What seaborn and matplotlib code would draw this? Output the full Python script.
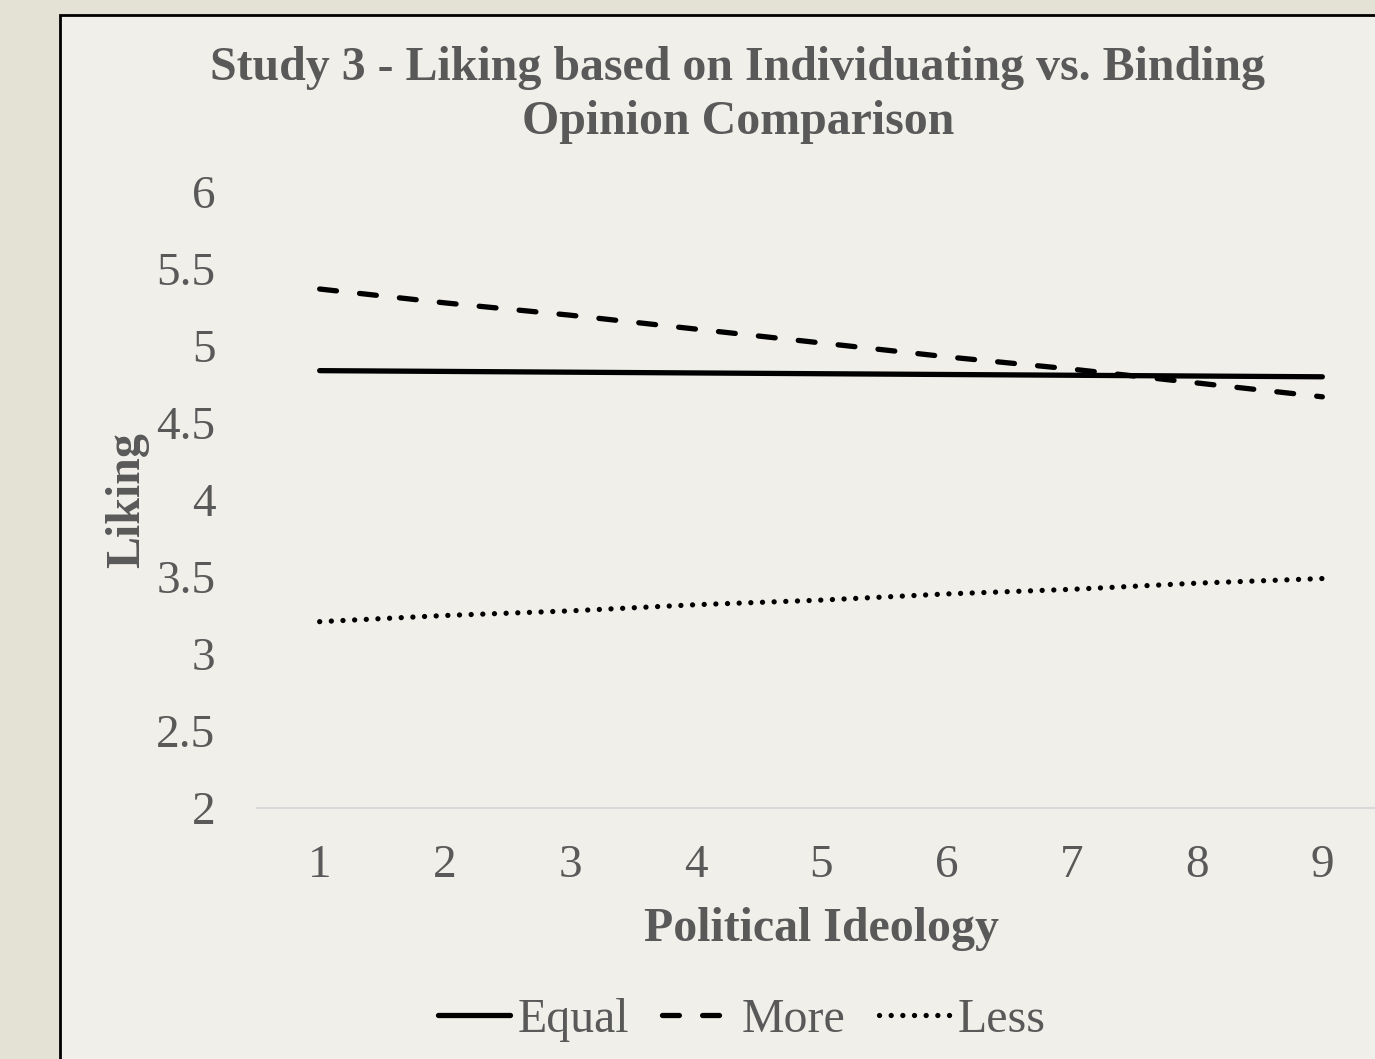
import matplotlib
matplotlib.use("Agg")
import matplotlib.pyplot as plt
from matplotlib.patches import Rectangle
import numpy as np
import pandas as pd
import seaborn as sns

# ---- data ----
ideology = [1, 2, 3, 4, 5, 6, 7, 8, 9]
equal = [4.84, 4.835, 4.83, 4.825, 4.82, 4.815, 4.81, 4.805, 4.80]
more = [5.37, 5.28, 5.20, 5.11, 5.02, 4.93, 4.85, 4.76, 4.67]
less = [3.21, 3.25, 3.28, 3.32, 3.35, 3.39, 3.42, 3.46, 3.49]
series_names = ["Equal", "More", "Less"]
y_ticks = [2, 2.5, 3, 3.5, 4, 4.5, 5, 5.5, 6]

df = pd.DataFrame({
    "Political Ideology": ideology * 3,
    "Liking": equal + more + less,
    "Condition": ["Equal"] * 9 + ["More"] * 9 + ["Less"] * 9,
})

sns.set_theme(style="white")
plt.rcParams["font.family"] = ["Liberation Serif", "DejaVu Serif"]
plt.rcParams["lines.dash_capstyle"] = "round"
plt.rcParams["lines.solid_capstyle"] = "round"

TXT = "#595959"
W, H = 1375, 1059
fig = plt.figure(figsize=(W / 100, H / 100), dpi=100)
fig.patch.set_facecolor("#E4E1D5")

# chart area with border (extends past right/bottom edges)
fig.patches.append(Rectangle((60 / W, 0 - 0.01), 1.05, 1 - 15 / H + 0.01,
                             transform=fig.transFigure, facecolor="#F0EFE9",
                             edgecolor="black", linewidth=2.0, zorder=-10))

ax = fig.add_axes([257 / W, 1 - 808 / H, (1385 - 257) / W, (808 - 192) / H])
ax.set_facecolor("none")
ax.set_zorder(5)

lw = 3.8
sns.lineplot(data=df, x="Political Ideology", y="Liking", style="Condition",
             style_order=series_names,
             dashes={"Equal": "", "More": (3.2, 4.4), "Less": (0.01, 2.2)},
             color="black", linewidth=lw, ax=ax, legend=False)

ax.set_xlim(0.5, 9.5)
ax.set_ylim(2, 6)
ax.set_xticks(ideology)
ax.set_xticklabels([str(v) for v in ideology])
ax.set_yticks(y_ticks)
ax.set_yticklabels([f"{v:g}" for v in y_ticks])
ax.tick_params(axis="both", length=0, labelsize=34, labelcolor=TXT)
ax.tick_params(axis="y", pad=30)
ax.tick_params(axis="x", pad=26)
for s in ["left", "right", "top"]:
    ax.spines[s].set_visible(False)
ax.spines["bottom"].set_color("#D9D9D9")
ax.spines["bottom"].set_linewidth(1.5)
ax.grid(False)

ax.set_xlabel("")
ax.set_ylabel("")
BF = 34.5
fig.text(822 / W, 1 - 929 / H, "Political Ideology", ha="center", va="center",
         fontsize=BF, fontweight="bold", color=TXT)
fig.text(127 / W, 1 - 500 / H, "Liking", ha="center", va="center", rotation=90,
         fontsize=BF, fontweight="bold", color=TXT)

fig.text(738 / W, 1 - 68 / H, "Study 3 - Liking based on Individuating vs. Binding",
         ha="center", va="center", fontsize=BF, fontweight="bold", color=TXT)
fig.text(738 / W, 1 - 122 / H, "Opinion Comparison",
         ha="center", va="center", fontsize=BF, fontweight="bold", color=TXT)

handles = ax.get_lines()[:3]
leg = fig.legend(handles, series_names, loc="center", bbox_to_anchor=(742 / W, 1 - 1020 / H),
                 ncol=3, frameon=False, fontsize=34.5, handlelength=1.5,
                 handletextpad=0.15, columnspacing=0.7, labelcolor=TXT)

fig.savefig("out.png", dpi=100, facecolor=fig.get_facecolor())
